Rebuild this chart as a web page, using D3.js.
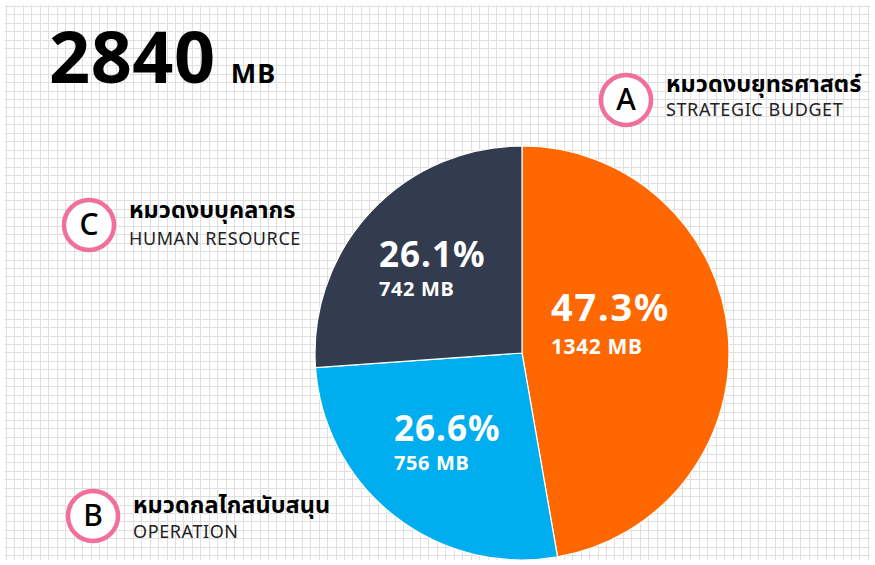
<!DOCTYPE html>
<html>
<head>
<meta charset="utf-8">
<script src="https://cdn.jsdelivr.net/npm/d3@7"></script>
<style>
  html, body { margin: 0; padding: 0; background: #fff; }
  svg { display: block; }
  text { font-family: "Noto Sans", "Noto Sans Thai", "DejaVu Sans", sans-serif; }
</style>
</head>
<body>
<svg id="chart" width="875" height="565"></svg>
<script>
// ---- data ----
const categories = ["A", "B", "C"];
const thaiNames = ["หมวดงบยุทธศาสตร์", "หมวดกลไกสนับสนุน", "หมวดงบบุคลากร"];
const englishNames = ["STRATEGIC BUDGET", "OPERATION", "HUMAN RESOURCE"];
const valuesMB = [1342, 756, 742];
const unit = "MB";

// ---- style / layout ----
const colors = ["#FF6700", "#00AEEF", "#333C4E"];
const cx = 522, cy = 353, R = 207;
const legendPos = { A: [626, 100], B: [93, 516], C: [89, 225] };
const legendTextDy = { A: [-8, 16], B: [-3, 22], C: [-7, 20] };
const labelPos = { A: [551, 321], B: [394, 441], C: [379, 267] };
const labelStyle = {
  A: { big: 38, small: 21, gap: 33, ls: 1.8 },
  B: { big: 35, small: 20, gap: 29, ls: 1 },
  C: { big: 35, small: 20, gap: 29, ls: 1 }
};

const svg = d3.select("#chart");

// background grid
const grid = svg.append("g");
const step = 8.45;
const xs = d3.range(6, 871, step), ys = d3.range(6, 561, step);
grid.selectAll("line.v").data(xs).join("line")
  .attr("x1", d => Math.round(d) + 0.5).attr("x2", d => Math.round(d) + 0.5)
  .attr("y1", 5).attr("y2", 560)
  .attr("stroke", "#dfdfdf").attr("stroke-width", 1);
grid.selectAll("line.h").data(ys).join("line")
  .attr("y1", d => Math.round(d) + 0.5).attr("y2", d => Math.round(d) + 0.5)
  .attr("x1", 5).attr("x2", 870)
  .attr("stroke", "#dfdfdf").attr("stroke-width", 1);

const total = d3.sum(valuesMB);

// title
const title = svg.append("text").attr("x", 49).attr("y", 83)
  .attr("font-weight", 700).attr("fill", "#000");
title.append("tspan").attr("font-size", 72).attr("letter-spacing", 0.5).text(total);
title.append("tspan").attr("font-size", 27).attr("dx", 15).attr("letter-spacing", 1).text(unit);

// pie
const data = categories.map((c, i) => ({ cat: c, value: valuesMB[i], color: colors[i] }));
const pie = d3.pie().value(d => d.value).sort(null);
const arc = d3.arc().innerRadius(0).outerRadius(R);
const arcs = pie(data);
const g = svg.append("g").attr("transform", `translate(${cx},${cy})`);
g.selectAll("path").data(arcs).join("path")
  .attr("d", arc).attr("fill", d => d.data.color)
  .attr("stroke", "#fff").attr("stroke-width", 1.2);

// slice labels
const fmt = d3.format(".1f");
arcs.forEach(a => {
  const [x, y] = labelPos[a.data.cat];
  const st = labelStyle[a.data.cat];
  svg.append("text").attr("x", x).attr("y", y)
    .attr("font-size", st.big).attr("font-weight", 700).attr("fill", "#fff")
    .attr("letter-spacing", st.ls)
    .text(fmt(a.data.value / total * 100) + "%");
  svg.append("text").attr("x", x).attr("y", y + st.gap)
    .attr("font-size", st.small).attr("font-weight", 700).attr("fill", "#fff")
    .attr("letter-spacing", 0.6)
    .text(a.data.value + " " + unit);
});

// legend
categories.forEach((c, i) => {
  const [x, y] = legendPos[c];
  const lg = svg.append("g");
  lg.append("circle").attr("cx", x).attr("cy", y).attr("r", 25)
    .attr("fill", "#fff").attr("stroke", "#F0709A").attr("stroke-width", 4.5);
  lg.append("text").attr("x", x).attr("y", y + 10).attr("text-anchor", "middle")
    .attr("font-size", 30).attr("font-weight", 500).attr("fill", "#000").text(c);
  lg.append("text").attr("x", x + 40).attr("y", y + legendTextDy[c][0])
    .attr("font-size", 23.5).attr("font-weight", 700).attr("fill", "#000").text(thaiNames[i]);
  lg.append("text").attr("x", x + 40).attr("y", y + legendTextDy[c][1])
    .attr("font-size", 18).attr("font-weight", 400).attr("fill", "#222")
    .attr("letter-spacing", 0.6).text(englishNames[i]);
});
</script>
</body>
</html>
